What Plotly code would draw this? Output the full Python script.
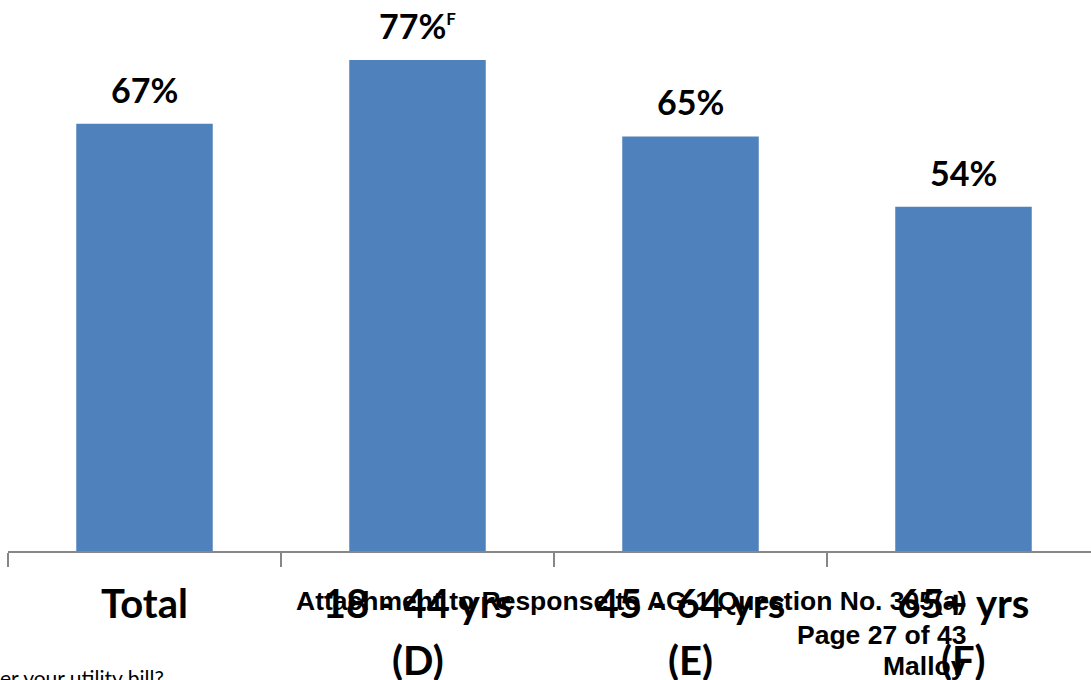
import plotly.graph_objects as go

# Share of respondents by age group
categories = ["Total", "18 - 44 yrs", "45 - 64 yrs", "65+ yrs"]
group_codes = ["", "(D)", "(E)", "(F)"]
values = [67, 77, 65, 54]
sig_marks = ["", "F", "", ""]

footer_lines = [
    "Attachment to Response to AG-1 Question No. 305(a)",
    "Page 27 of 43",
    "Malloy",
]
question_tail = "er your utility bill?"

W, H = 1091, 680
M_L, M_B = 8, 129
PLOT_H = H - M_B
PLOT_W = W - M_L
CAT_W = 273.0

BAR_COLOR = "#4F81BD"
AXIS_COLOR = "#878787"
LABEL_FONT = "Lato"
STAMP_FONT = "Liberation Sans"


def px_to_paper_y(py):
    return (PLOT_H - py) / PLOT_H


def px_to_paper_x(px):
    return (px - M_L) / PLOT_W


fig = go.Figure()
fig.add_trace(
    go.Bar(
        x=categories,
        y=values,
        width=0.5,
        marker=dict(color=BAR_COLOR, line=dict(width=0)),
        hoverinfo="skip",
    )
)

annotations = []

# value labels above bars
for cat, v, m in zip(categories, values, sig_marks):
    txt = f"{v}%"
    if m:
        txt += f"<sup><span style='font-size:17px'>{m}</span></sup>"
    annotations.append(
        dict(
            x=cat, y=v, xref="x", yref="y",
            text=txt, showarrow=False,
            xanchor="center", yanchor="bottom", yshift=12,
            font=dict(family=LABEL_FONT, size=34, color="#000000", weight="bold"),
        )
    )

# second line of category labels (significance group codes)
for cat, code in zip(categories, group_codes):
    if not code:
        continue
    annotations.append(
        dict(
            x=cat, y=px_to_paper_y(660), xref="x", yref="paper",
            text=code, showarrow=False,
            xanchor="center", yanchor="middle",
            font=dict(family=LABEL_FONT, size=40, color="#000000", weight="bold"),
        )
    )

# document stamp
stamp_y = [601, 635, 666]
for line, py in zip(footer_lines, stamp_y):
    annotations.append(
        dict(
            x=px_to_paper_x(968), y=px_to_paper_y(py), xref="paper", yref="paper",
            text=line, showarrow=False,
            xanchor="right", yanchor="middle",
            font=dict(family=STAMP_FONT, size=26.5, color="#000000", weight="bold"),
        )
    )

# truncated question text at the bottom edge
annotations.append(
    dict(
        x=px_to_paper_x(166), y=px_to_paper_y(663), xref="paper", yref="paper",
        text=question_tail, showarrow=False,
        xanchor="right", yanchor="top",
        font=dict(family=LABEL_FONT, size=21, color="#000000"),
    )
)

fig.update_layout(
    width=W, height=H,
    margin=dict(l=M_L, r=0, t=0, b=M_B, pad=0),
    paper_bgcolor="white", plot_bgcolor="white",
    showlegend=False,
    annotations=annotations,
    xaxis=dict(
        type="category",
        categoryorder="array",
        categoryarray=categories,
        range=[-0.5, -0.5 + PLOT_W / CAT_W],
        tickson="boundaries",
        ticks="outside", ticklen=14, tickwidth=2, tickcolor=AXIS_COLOR,
        showline=True, linecolor=AXIS_COLOR, linewidth=2,
        showgrid=False, zeroline=False,
        ticklabelstandoff=17,
        tickfont=dict(family=LABEL_FONT, size=40, color="#000000", weight="bold"),
        fixedrange=True,
    ),
    yaxis=dict(
        range=[0, 86.4],
        visible=False, showgrid=False, zeroline=False,
        fixedrange=True,
    ),
)

fig.write_html("out.html", config={"displayModeBar": False})
